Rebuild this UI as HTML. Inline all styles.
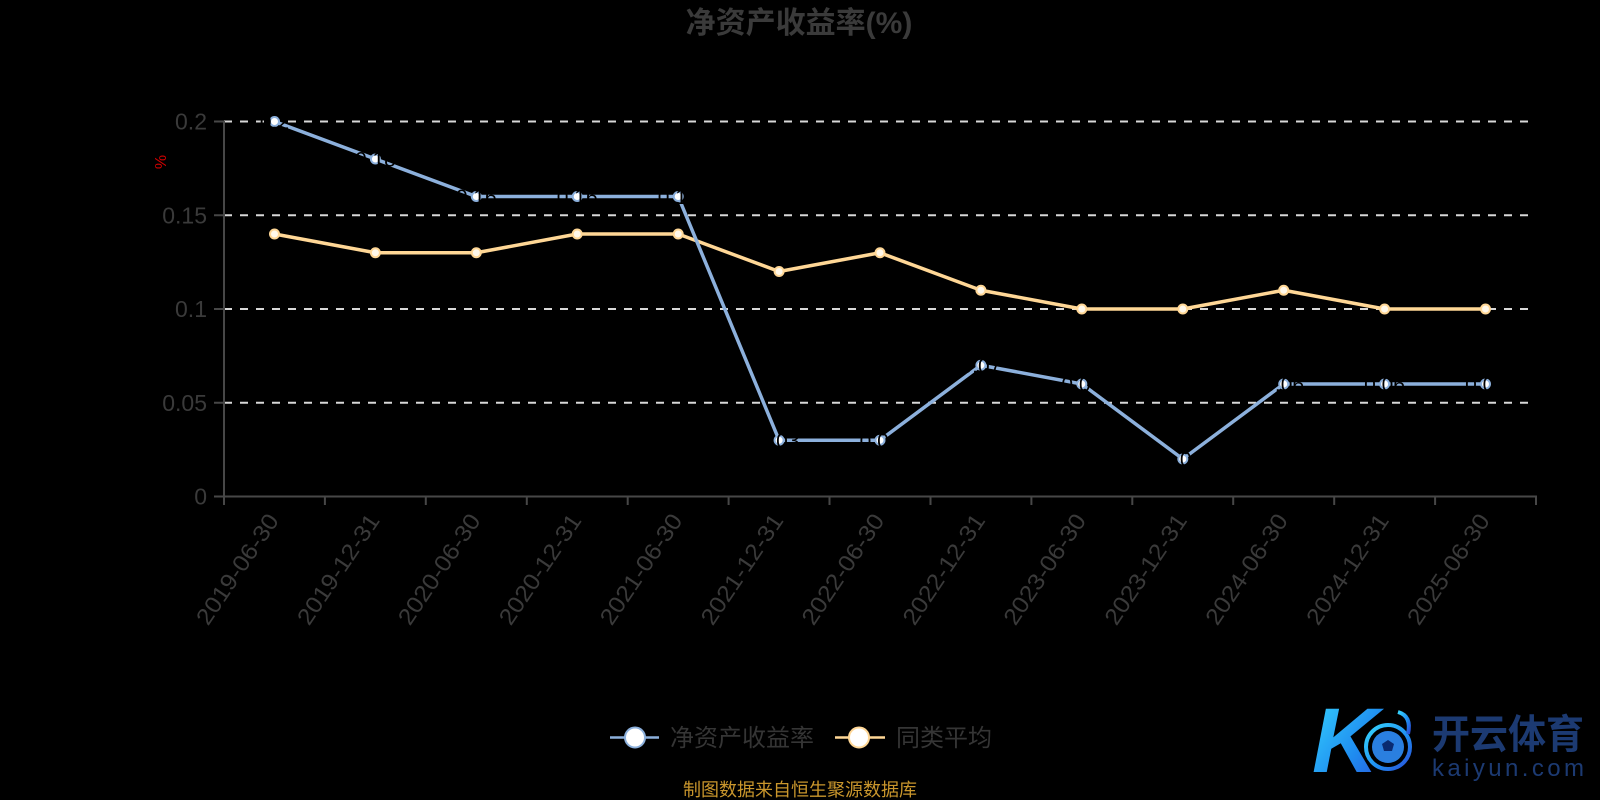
<!DOCTYPE html>
<html>
<head>
<meta charset="utf-8">
<style>
  html,body{margin:0;padding:0;background:#000;}
  body{width:1600px;height:800px;overflow:hidden;}
  svg{display:block;}
  text{font-family:"Liberation Sans","Noto Sans CJK SC",sans-serif;}
</style>
</head>
<body>
<svg width="1600" height="800" viewBox="0 0 1600 800" xmlns="http://www.w3.org/2000/svg">
  <defs>
    <linearGradient id="kg" x1="0" y1="0" x2="1" y2="1">
      <stop offset="0" stop-color="#36d6ff"/>
      <stop offset="0.6" stop-color="#1f8cf0"/>
      <stop offset="1" stop-color="#2a4fd8"/>
    </linearGradient>
  </defs>
  <rect width="1600" height="800" fill="#000"/>

  <!-- Title -->
  <text x="799" y="33" text-anchor="middle" font-size="30" font-weight="bold" fill="#3a3a3a">净资产收益率(%)</text>

  <!-- unit -->
  <text x="0" y="0" transform="translate(166,162) rotate(-90)" text-anchor="middle" font-size="16" fill="#d00000">%</text>

  <!-- Grid lines -->
  <g stroke="#d8d8d8" stroke-width="2" stroke-dasharray="8 8">
    <line x1="224" y1="121.5" x2="1528" y2="121.5"/>
    <line x1="224" y1="215.25" x2="1528" y2="215.25"/>
    <line x1="224" y1="309" x2="1528" y2="309"/>
    <line x1="224" y1="402.75" x2="1528" y2="402.75"/>
  </g>

  <!-- Axes -->
  <g stroke="#474747" stroke-width="2" fill="none">
    <line x1="224" y1="121" x2="224" y2="497"/>
    <line x1="224" y1="496.5" x2="1537" y2="496.5"/>
    <line x1="214" y1="121.5" x2="224" y2="121.5"/>
    <line x1="214" y1="215.25" x2="224" y2="215.25"/>
    <line x1="214" y1="309" x2="224" y2="309"/>
    <line x1="214" y1="402.75" x2="224" y2="402.75"/>
    <line x1="214" y1="496.5" x2="224" y2="496.5"/>
    <line x1="224" y1="496.5" x2="224" y2="505"/>
    <line x1="324.9" y1="496.5" x2="324.9" y2="505"/>
    <line x1="425.8" y1="496.5" x2="425.8" y2="505"/>
    <line x1="526.8" y1="496.5" x2="526.8" y2="505"/>
    <line x1="627.7" y1="496.5" x2="627.7" y2="505"/>
    <line x1="728.6" y1="496.5" x2="728.6" y2="505"/>
    <line x1="829.5" y1="496.5" x2="829.5" y2="505"/>
    <line x1="930.5" y1="496.5" x2="930.5" y2="505"/>
    <line x1="1031.4" y1="496.5" x2="1031.4" y2="505"/>
    <line x1="1132.3" y1="496.5" x2="1132.3" y2="505"/>
    <line x1="1233.2" y1="496.5" x2="1233.2" y2="505"/>
    <line x1="1334.2" y1="496.5" x2="1334.2" y2="505"/>
    <line x1="1435.1" y1="496.5" x2="1435.1" y2="505"/>
    <line x1="1536" y1="496.5" x2="1536" y2="505"/>
  </g>

  <!-- Y labels -->
  <g font-size="23" fill="#3a3a3a" text-anchor="end">
    <text x="207" y="129.5">0.2</text>
    <text x="207" y="223.25">0.15</text>
    <text x="207" y="317">0.1</text>
    <text x="207" y="410.75">0.05</text>
    <text x="207" y="504.5">0</text>
  </g>

  <!-- X labels -->
  <g font-size="23" fill="#3a3a3a" text-anchor="end">
    <text transform="translate(273,516) rotate(-56)" dy="8" textLength="128" lengthAdjust="spacingAndGlyphs">2019-06-30</text>
    <text transform="translate(373.9,516) rotate(-56)" dy="8" textLength="128" lengthAdjust="spacingAndGlyphs">2019-12-31</text>
    <text transform="translate(474.8,516) rotate(-56)" dy="8" textLength="128" lengthAdjust="spacingAndGlyphs">2020-06-30</text>
    <text transform="translate(575.7,516) rotate(-56)" dy="8" textLength="128" lengthAdjust="spacingAndGlyphs">2020-12-31</text>
    <text transform="translate(676.7,516) rotate(-56)" dy="8" textLength="128" lengthAdjust="spacingAndGlyphs">2021-06-30</text>
    <text transform="translate(777.6,516) rotate(-56)" dy="8" textLength="128" lengthAdjust="spacingAndGlyphs">2021-12-31</text>
    <text transform="translate(878.5,516) rotate(-56)" dy="8" textLength="128" lengthAdjust="spacingAndGlyphs">2022-06-30</text>
    <text transform="translate(979.4,516) rotate(-56)" dy="8" textLength="128" lengthAdjust="spacingAndGlyphs">2022-12-31</text>
    <text transform="translate(1080.3,516) rotate(-56)" dy="8" textLength="128" lengthAdjust="spacingAndGlyphs">2023-06-30</text>
    <text transform="translate(1181.3,516) rotate(-56)" dy="8" textLength="128" lengthAdjust="spacingAndGlyphs">2023-12-31</text>
    <text transform="translate(1282.2,516) rotate(-56)" dy="8" textLength="128" lengthAdjust="spacingAndGlyphs">2024-06-30</text>
    <text transform="translate(1383.1,516) rotate(-56)" dy="8" textLength="128" lengthAdjust="spacingAndGlyphs">2024-12-31</text>
    <text transform="translate(1484,516) rotate(-56)" dy="8" textLength="128" lengthAdjust="spacingAndGlyphs">2025-06-30</text>
  </g>

  <!-- Orange series (同类平均) -->
  <polyline fill="none" stroke="#ffd796" stroke-width="3.5" stroke-linejoin="round"
    points="274.5,234 375.4,252.75 476.3,252.75 577.2,234 678.2,234 779.1,271.5 880,252.75 980.9,290.25 1081.8,309 1182.8,309 1283.7,290.25 1384.6,309 1485.5,309"/>
  <g fill="#fff8ea" stroke="#ffd796" stroke-width="2">
    <circle cx="274.5" cy="234" r="4.5"/>
    <circle cx="375.4" cy="252.75" r="4.5"/>
    <circle cx="476.3" cy="252.75" r="4.5"/>
    <circle cx="577.2" cy="234" r="4.5"/>
    <circle cx="678.2" cy="234" r="4.5"/>
    <circle cx="779.1" cy="271.5" r="4.5"/>
    <circle cx="880" cy="252.75" r="4.5"/>
    <circle cx="980.9" cy="290.25" r="4.5"/>
    <circle cx="1081.8" cy="309" r="4.5"/>
    <circle cx="1182.8" cy="309" r="4.5"/>
    <circle cx="1283.7" cy="290.25" r="4.5"/>
    <circle cx="1384.6" cy="309" r="4.5"/>
    <circle cx="1485.5" cy="309" r="4.5"/>
  </g>

  <!-- Blue series (净资产收益率) -->
  <polyline fill="none" stroke="#8cb0dc" stroke-width="3.5" stroke-linejoin="round"
    points="274.5,121.5 375.4,159 476.3,196.5 577.2,196.5 678.2,196.5 779.1,440.25 880,440.25 980.9,365.25 1081.8,384 1182.8,459 1283.7,384 1384.6,384 1485.5,384"/>
  <g fill="#ffffff" stroke="#8cb0dc" stroke-width="2">
    <circle cx="274.5" cy="121.5" r="4.5"/>
    <circle cx="375.4" cy="159" r="4.5"/>
    <circle cx="476.3" cy="196.5" r="4.5"/>
    <circle cx="577.2" cy="196.5" r="4.5"/>
    <circle cx="678.2" cy="196.5" r="4.5"/>
    <circle cx="779.1" cy="440.25" r="4.5"/>
    <circle cx="880" cy="440.25" r="4.5"/>
    <circle cx="980.9" cy="365.25" r="4.5"/>
    <circle cx="1081.8" cy="384" r="4.5"/>
    <circle cx="1182.8" cy="459" r="4.5"/>
    <circle cx="1283.7" cy="384" r="4.5"/>
    <circle cx="1384.6" cy="384" r="4.5"/>
    <circle cx="1485.5" cy="384" r="4.5"/>
  </g>
  <!-- black data labels overlaying blue line -->
  <g font-size="21" fill="#000" text-anchor="middle">
    <text x="274.5" y="129">0.2</text>
    <text x="375.4" y="166.5">0.18</text>
    <text x="476.3" y="204">0.16</text>
    <text x="577.2" y="204">0.16</text>
    <text x="678.2" y="204">0.16</text>
    <text x="779.1" y="447.75">0.03</text>
    <text x="880" y="447.75">0.03</text>
    <text x="980.9" y="372.75">0.07</text>
    <text x="1081.8" y="391.5">0.06</text>
    <text x="1182.8" y="466.5">0.02</text>
    <text x="1283.7" y="391.5">0.06</text>
    <text x="1384.6" y="391.5">0.06</text>
    <text x="1485.5" y="391.5">0.06</text>
  </g>

  <!-- Legend -->
  <line x1="610" y1="737.5" x2="659" y2="737.5" stroke="#8cb0dc" stroke-width="2.5"/>
  <circle cx="635" cy="737.5" r="10" fill="#fff" stroke="#8cb0dc" stroke-width="2"/>
  <text x="670" y="746" font-size="24" fill="#353535">净资产收益率</text>
  <line x1="835" y1="737.5" x2="885" y2="737.5" stroke="#ffd796" stroke-width="2.5"/>
  <circle cx="859" cy="737.5" r="10" fill="#fff" stroke="#ffd796" stroke-width="2"/>
  <text x="896" y="746" font-size="24" fill="#353535">同类平均</text>

  <!-- Footer -->
  <text x="800" y="796" text-anchor="middle" font-size="18" fill="#c9962c">制图数据来自恒生聚源数据库</text>

  <!-- Logo -->
  <g>
    <text x="1312" y="772" font-family="'Liberation Serif',serif" font-style="italic" font-weight="bold" font-size="92" fill="url(#kg)">K</text>
    <circle cx="1388" cy="747" r="22" fill="none" stroke="url(#kg)" stroke-width="4"/>
    <circle cx="1388" cy="747" r="16" fill="#2a7fe0"/>
    <polygon points="1388,740 1394,744 1392,751 1384,751 1382,744" fill="#0a2a70"/>
    <path d="M1398,712 q14,4 10,22" fill="none" stroke="url(#kg)" stroke-width="4"/>
    <text x="1432" y="748" font-size="40" font-weight="bold" fill="#1c3a72" textLength="152" lengthAdjust="spacingAndGlyphs">开云体育</text>
    <text x="1432" y="776" font-size="24" fill="#1c3a72" textLength="152" lengthAdjust="spacing">kaiyun.com</text>
  </g>
</svg>
</body>
</html>
